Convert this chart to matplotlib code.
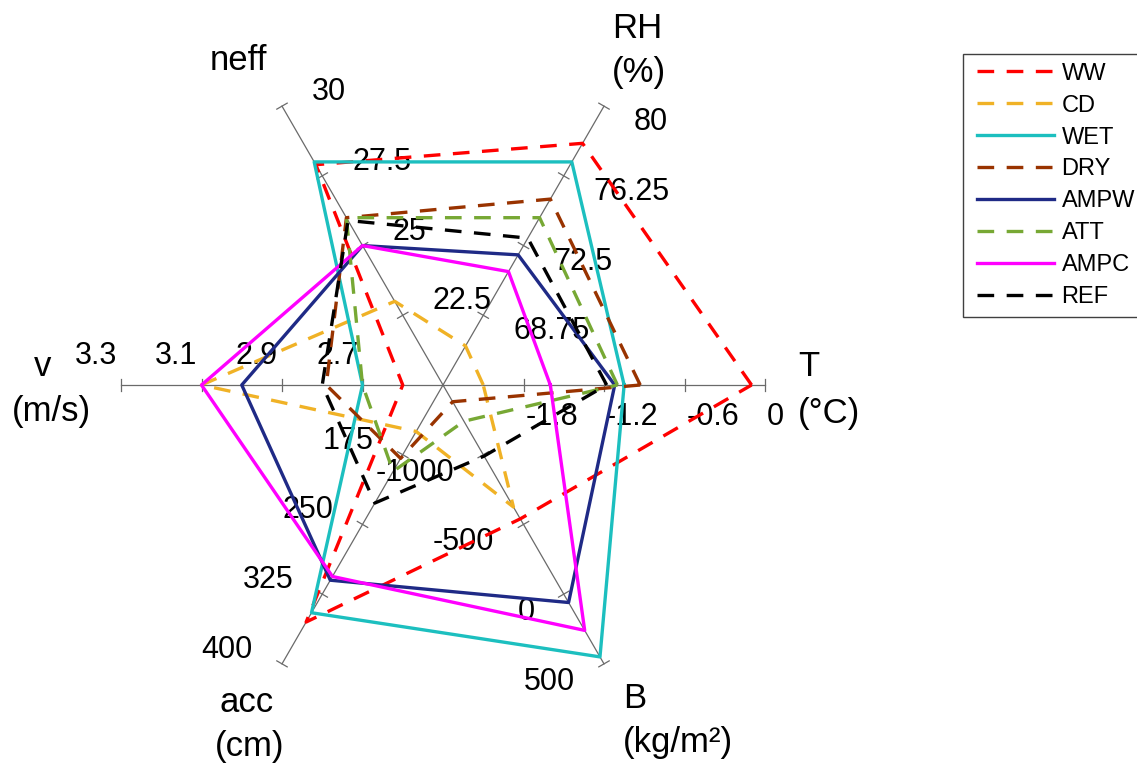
import numpy as np
import matplotlib
matplotlib.use("Agg")
import matplotlib.pyplot as plt
from matplotlib.lines import Line2D
from matplotlib.legend_handler import HandlerLine2D

plt.rcParams["font.family"] = ["Liberation Sans", "DejaVu Sans"]
plt.rcParams["lines.scale_dashes"] = False

W, H = 1137, 769

# ── Spokes: one per variable, each with its own scale ─────────────────────────
spoke_names  = ["T", "RH", "neff", "v", "acc", "B"]
spoke_units  = ["(°C)", "(%)", "", "(m/s)", "(cm)", "(kg/m²)"]
spoke_angles = [0, 60, 120, 180, 240, 300]
spoke_min    = [-2.4, 65, 20, 2.5, 100, -1500]
spoke_max    = [0.0, 80, 30, 3.3, 400, 500]
tick_fracs   = [0.25, 0.5, 0.75, 1.0]

# ── Series values, in spoke order T, RH, neff, v, acc, B ──────────────────────
series_names = ["WW", "CD", "WET", "DRY", "AMPW", "ATT", "AMPC", "REF"]
ww   = [-0.10, 78.0, 27.9, 2.60, 355, -540]
cd   = [-2.10, 67.1, 23.0, 3.10, 150, -625]
wet  = [-1.05, 77.0, 28.0, 2.70, 345, 450]
dry  = [-0.93, 75.0, 26.0, 2.79, 179, -1380]
ampw = [-1.12, 72.0, 25.0, 3.00, 310, 60]
att  = [-1.10, 74.0, 26.0, 2.70, 193, -1240]
ampc = [-1.60, 71.1, 25.0, 3.10, 306, 260]
ref  = [-1.18, 72.9, 25.9, 2.80, 227, -990]
series_values = [ww, cd, wet, dry, ampw, att, ampc, ref]

colors = ["#FF0000", "#F0B226", "#1CBFBF", "#993300",
          "#1F2A86", "#77A834", "#FF00FF", "#000000"]
dashed = [True, True, False, True, False, True, False, True]

# ── Figure / polar axes placed so the centre sits at (443, 385) px ─────────────
cx, cy, R = 443, 385, 322
fig = plt.figure(figsize=(W / 100, H / 100), dpi=100)
ax = fig.add_axes([(cx - R) / W, (H - cy - R) / H, 2 * R / W, 2 * R / H],
                  projection="polar")
ax.set_ylim(0, 1)
ax.set_xticks([])
ax.set_yticks([])
ax.grid(False)
ax.spines["polar"].set_visible(False)
ax.patch.set_alpha(0)

theta = np.deg2rad(spoke_angles)
spoke_col = "#6A6A6A"
half_tick = 6 / R

# spokes + perpendicular tick marks
for th in theta:
    ax.plot([th, th], [0, 1], color=spoke_col, lw=0.9, clip_on=False, zorder=1)
    for f in tick_fracs:
        dth = np.arctan(half_tick / f)
        rr = np.hypot(f, half_tick)
        ax.plot([th - dth, th + dth], [rr, rr], color=spoke_col, lw=0.9,
                clip_on=False, zorder=1)

# tick labels (pixel offsets from the tick, y down) and alignment
label_off = [(2, 32, "left"), (30, 16, "left"), (30, -14, "left"),
             (-4, -29, "right"), (-29, -14, "right"), (-29, 18, "right")]
for i, th in enumerate(theta):
    dx, dy, ha = label_off[i]
    for f in tick_fracs:
        val = spoke_min[i] + f * (spoke_max[i] - spoke_min[i])
        ax.annotate(f"{val:g}", xy=(th, f), xytext=(dx * 0.72, -dy * 0.72),
                    textcoords="offset points", ha=ha, va="center",
                    fontsize=22, color="black", zorder=2,
                    annotation_clip=False)

# ── Series polygons ───────────────────────────────────────────────────────────
handles = []
for name, vals, col, dsh in zip(series_names, series_values, colors, dashed):
    r = [(v - lo) / (hi - lo) for v, lo, hi in zip(vals, spoke_min, spoke_max)]
    ls = (0, (12, 9)) if dsh else "-"
    line, = ax.plot(list(theta) + [theta[0]], r + [r[0]], color=col, lw=2.4,
                    ls=ls, clip_on=False, zorder=3, label=name)
    handles.append(line)

# ── Spoke titles (pixel positions, baseline) ──────────────────────────────────
titles = [
    ("RH", 612, 38, "left"), ("(%)", 612, 82, "left"),
    ("T", 798, 376, "left"), ("(°C)", 798, 423, "left"),
    ("neff", 238, 70, "center"),
    ("v", 43, 376, "center"), ("(m/s)", 51, 421, "center"),
    ("acc", 247, 712, "center"), ("(cm)", 250, 756, "center"),
    ("B", 623, 708, "left"), ("(kg/m²)", 623, 752, "left"),
]
for txt, x, y, ha in titles:
    fig.text(x / W, 1 - y / H, txt, ha=ha, va="baseline", fontsize=25)

# ── Legend ────────────────────────────────────────────────────────────────────
leg = fig.legend(handles=handles, loc="upper left",
                 bbox_to_anchor=(963 / W, 1 - 54 / H), borderaxespad=0,
                 fontsize=17, handlelength=3.48, handletextpad=0.32,
                 borderpad=0.37, labelspacing=0.42, fancybox=False,
                 framealpha=1, edgecolor="#404040",
                 handler_map={Line2D: HandlerLine2D(xpad=0.22)})
leg.get_frame().set_linewidth(1.0)

fig.savefig("out.png", dpi=100)
plt.close()
